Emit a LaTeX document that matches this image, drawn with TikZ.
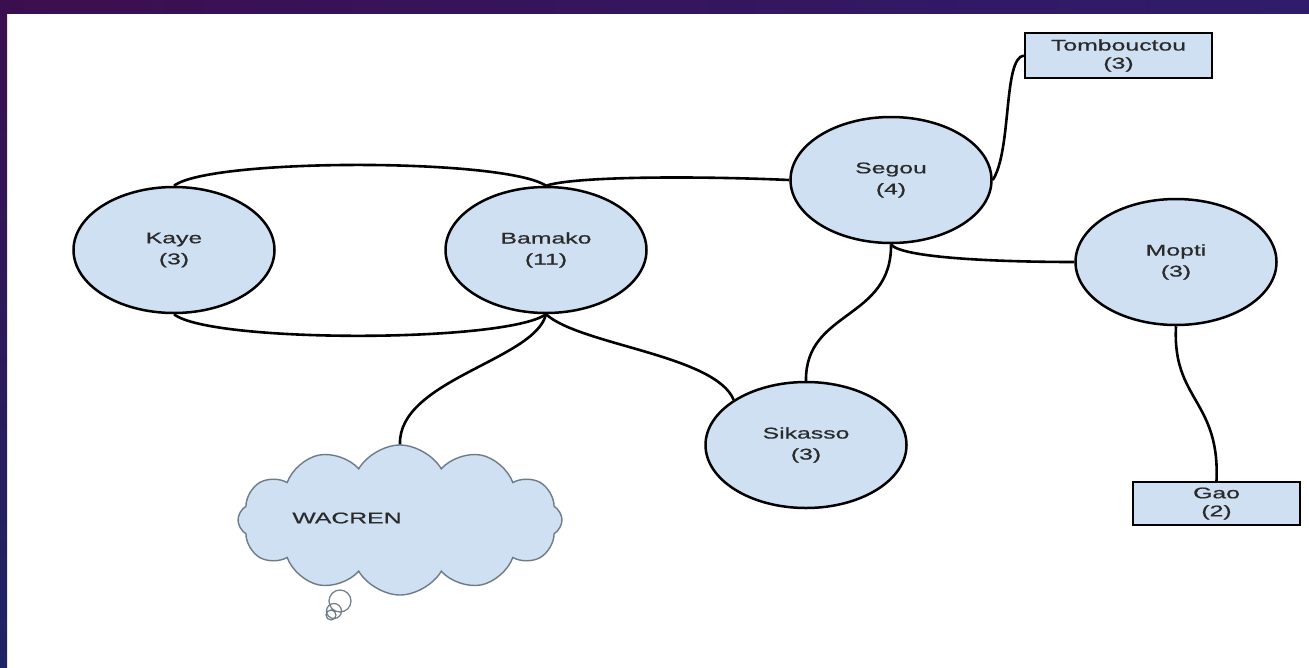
\documentclass[tikz,border=0pt]{standalone}
\usepackage{fontspec}
\newfontfamily\lbl[FakeStretch=1.6,FakeBold=0.6]{Liberation Sans}
\usetikzlibrary{shapes.geometric,shapes.symbols}
\definecolor{nodefill}{HTML}{CFE0F2}
\definecolor{textgray}{HTML}{2A2A2A}
\definecolor{cloudline}{HTML}{6E7B88}
\definecolor{bandA}{HTML}{3B0F4F}
\definecolor{bandB}{HTML}{2F1C6C}
\definecolor{bandC}{HTML}{1E2466}
\begin{document}
\begin{tikzpicture}[x=1pt,y=-1pt,
  city/.style={ellipse,draw=black,line width=2.5pt,fill=nodefill,minimum width=201pt,minimum height=126pt,inner sep=0pt,
    font=\lbl\fontsize{15.5}{21}\selectfont,text=textgray,align=center},
  box/.style={rectangle,draw=black,line width=2.3pt,fill=nodefill,inner sep=0pt,
    font=\lbl\fontsize{15.5}{18}\selectfont,text=textgray,align=center},
  link/.style={line width=2.6pt,draw=black},
  cloudtxt/.style={font=\lbl\fontsize{15.5}{18}\selectfont,text=textgray}]
\useasboundingbox (0,0) rectangle (1309,667);
\fill[white] (0,0) rectangle (1309,667);
\shade[top color=bandA,bottom color=bandC] (0,0) rectangle (7,667);
\shade[left color=bandA,right color=bandB] (0,0) rectangle (1309,13);

% nodes
\node[city] (kaye) at (174,250) {Kaye\\(3)};
\node[city] (bamako) at (546,250) {Bamako\\(11)};
\node[city] (segou) at (891,180) {Segou\\(4)};
\node[city] (mopti) at (1176,262) {Mopti\\(3)};
\node[city] (sikasso) at (806,445) {Sikasso\\(3)};
\node[box,minimum width=187pt,minimum height=45pt] (tomb) at (1118.5,55.5) {Tombouctou\\(3)};
\node[box,minimum width=167pt,minimum height=43pt] (gao) at (1216.5,503.5) {Gao\\(2)};
\node[cloud,cloud puffs=12,cloud puff arc=120,aspect=2.1,draw=cloudline,line width=1.4pt,fill=nodefill,
  minimum width=324pt,minimum height=150pt,inner sep=0pt] (wacren) at (400,520) {};
\node[cloudtxt] (wacrenlbl) at (347,518) {WACREN};
\draw[cloudline,line width=1.2pt] (340,601) circle (11) (334,611) circle (7.5) (331,615) circle (5);

% links
\draw[link] (kaye.north) .. controls (210,158) and (505,158) .. (bamako.north);
\draw[link] (kaye.south) .. controls (210,343) and (505,343) .. (bamako.south);
\draw[link] (bamako.north) .. controls (575,176) and (700,176) .. (segou.west);
\draw[link] (segou.east) .. controls (1012,150) and (1003,58) .. (tomb.west);
\draw[link] (segou.south) .. controls (900,258) and (1000,262) .. (mopti.west);
\draw[link] (segou.south) .. controls (892,320) and (805,310) .. (sikasso.north);
\draw[link] (bamako.south) .. controls (580,345) and (715,355) .. (sikasso.148);
\draw[link] (bamako.south) .. controls (535,360) and (398,380) .. (wacren.north);
\draw[link] (mopti.south) .. controls (1172,400) and (1220,400) .. (gao.north);
\end{tikzpicture}
\end{document}
